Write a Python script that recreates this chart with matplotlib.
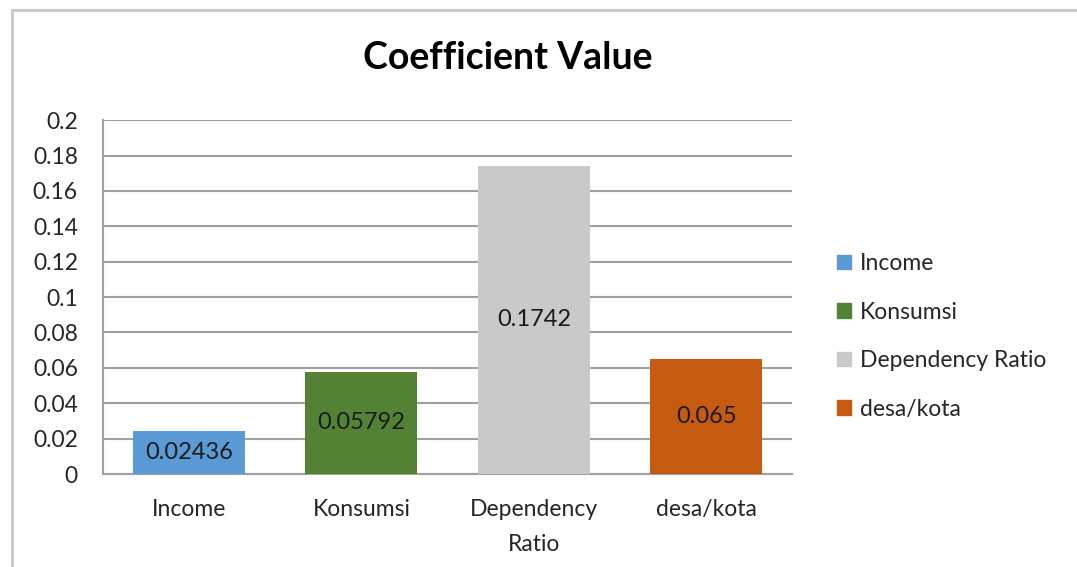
import matplotlib.pyplot as plt
from matplotlib.patches import Rectangle

plt.rcParams['font.family'] = ['Lato', 'DejaVu Sans']

# data
categories = ['Income', 'Konsumsi', 'Dependency\nRatio', 'desa/kota']
legend_names = ['Income', 'Konsumsi', 'Dependency Ratio', 'desa/kota']
values = [0.02436, 0.05792, 0.1742, 0.065]
value_labels = ['0.02436', '0.05792', '0.1742', '0.065']
colors = ['#5B9BD5', '#548235', '#C9C9C9', '#C55A11']
yticks = [0, 0.02, 0.04, 0.06, 0.08, 0.1, 0.12, 0.14, 0.16, 0.18, 0.2]

fig = plt.figure(figsize=(10.77, 5.67), dpi=100)
ax = fig.add_axes([0.0956, 0.164, 0.640, 0.624])

x = range(len(categories))
bars = ax.bar(x, values, width=0.65, color=colors, label=legend_names, zorder=3)
for b, lab in zip(bars, value_labels):
    ax.text(b.get_x() + b.get_width() / 2, b.get_height() / 2, lab,
            ha='center', va='center', fontsize=17, color='#1a1a1a', zorder=4)

ax.set_xlim(-0.5, 3.5)
ax.set_ylim(0, 0.2)
ax.set_yticks(yticks)
ax.set_yticklabels(['0', '0.02', '0.04', '0.06', '0.08', '0.1', '0.12',
                    '0.14', '0.16', '0.18', '0.2'])
ax.set_xticks(list(x))
ax.set_xticklabels(categories, linespacing=1.85)
ax.tick_params(axis='both', length=0, labelsize=16.5, colors='#262626')
ax.tick_params(axis='x', pad=18)
ax.tick_params(axis='y', pad=18)
ax.grid(axis='y', color='#A0A0A0', linewidth=1.5, zorder=0)
for s in ['top', 'right']:
    ax.spines[s].set_visible(False)
ax.spines['left'].set_color('#A0A0A0')
ax.spines['left'].set_linewidth(1.5)
ax.spines['bottom'].set_color('#A0A0A0')
ax.spines['bottom'].set_linewidth(1.5)

fig.text(0.471, 0.897, 'Coefficient Value', ha='center', va='center',
         fontsize=27, fontweight='bold', color='black')

handles = [Rectangle((0, 0), 1, 1, color=c) for c in colors]
fig.legend(handles, legend_names, loc='upper left', bbox_to_anchor=(0.758, 0.59),
           frameon=False, fontsize=16.5, handlelength=0.6, handleheight=0.6,
           handletextpad=0.4, labelspacing=1.2, labelcolor='#262626')

fig.patches.append(Rectangle((0.011, -0.05), 1.1, 1.032, transform=fig.transFigure,
                             fill=False, edgecolor='#C8C8C8', linewidth=2))

fig.savefig('out.png', dpi=100)
